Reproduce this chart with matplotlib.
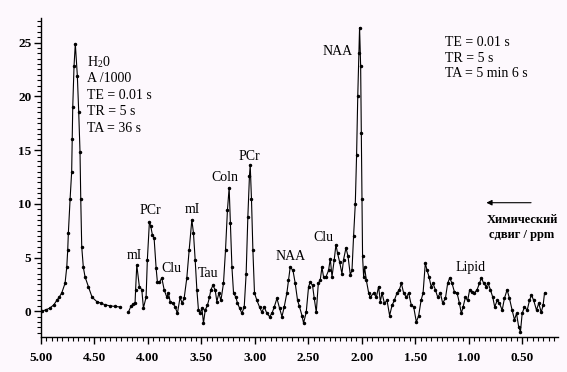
import matplotlib
matplotlib.use('Agg')
import matplotlib.pyplot as plt
from matplotlib.ticker import MultipleLocator, FormatStrFormatter

# water peak (ppm, intensity / 1000 scaled)
ppm_h2o = [4.993, 4.950, 4.916, 4.880, 4.853, 4.830, 4.806, 4.775, 4.759, 4.750,
           4.744, 4.728, 4.713, 4.708, 4.703, 4.691, 4.679, 4.660, 4.647, 4.635,
           4.628, 4.619, 4.604, 4.588, 4.557, 4.522, 4.478, 4.440, 4.400, 4.354,
           4.310, 4.260]
int_h2o = [0.0, 0.15, 0.3, 0.6, 1.0, 1.3, 1.7, 2.6, 4.1, 5.7,
           7.3, 10.4, 13.0, 16.0, 19.0, 22.8, 24.9, 21.9, 18.5, 14.8,
           10.4, 6.0, 4.1, 3.2, 2.3, 1.3, 0.9, 0.75, 0.6, 0.5,
           0.45, 0.4]

# metabolite spectrum
ppm_met = [4.183, 4.157, 4.136, 4.120, 4.115, 4.104, 4.080, 4.057, 4.042, 4.017,
           4.005, 3.986, 3.973, 3.958, 3.942, 3.923, 3.911, 3.892, 3.870, 3.848,
           3.823, 3.808, 3.792, 3.767, 3.745, 3.724, 3.699, 3.680, 3.661, 3.636,
           3.614, 3.589, 3.574, 3.558, 3.542, 3.527, 3.511, 3.495, 3.480, 3.464,
           3.443, 3.424, 3.411, 3.392, 3.371, 3.355, 3.336, 3.317, 3.293, 3.274,
           3.256, 3.240, 3.228, 3.214, 3.199, 3.177, 3.162, 3.143, 3.121, 3.099,
           3.081, 3.065, 3.050, 3.043, 3.031, 3.018, 3.003, 2.980, 2.956, 2.934,
           2.912, 2.887, 2.862, 2.840, 2.818, 2.793, 2.769, 2.746, 2.725, 2.700,
           2.685, 2.669, 2.643, 2.622, 2.600, 2.584, 2.559, 2.544, 2.519, 2.497,
           2.481, 2.460, 2.444, 2.425, 2.406, 2.388, 2.372, 2.357, 2.334, 2.310,
           2.294, 2.278, 2.257, 2.241, 2.226, 2.207, 2.185, 2.170, 2.147, 2.128,
           2.107, 2.091, 2.076, 2.060, 2.048, 2.037, 2.027, 2.020, 2.010, 2.004,
           1.997, 1.992, 1.982, 1.973, 1.957, 1.935, 1.920, 1.889, 1.863, 1.842,
           1.826, 1.810, 1.788, 1.763, 1.739, 1.716, 1.695, 1.670, 1.648, 1.629,
           1.608, 1.583, 1.561, 1.536, 1.514, 1.489, 1.467, 1.445, 1.426, 1.405,
           1.389, 1.370, 1.351, 1.333, 1.311, 1.289, 1.264, 1.243, 1.217, 1.196,
           1.177, 1.155, 1.133, 1.108, 1.086, 1.068, 1.052, 1.030, 1.009, 0.990,
           0.967, 0.946, 0.921, 0.899, 0.880, 0.859, 0.836, 0.818, 0.796, 0.774,
           0.756, 0.733, 0.712, 0.686, 0.665, 0.640, 0.618, 0.593, 0.571, 0.552,
           0.531, 0.515, 0.499, 0.478, 0.452, 0.431, 0.412, 0.391, 0.365, 0.344,
           0.321, 0.303, 0.290]
int_met = [-0.1, 0.5, 0.65, 0.8, 2.0, 4.3, 2.3, 2.0, 0.3, 1.3,
           4.8, 8.3, 7.9, 7.1, 6.8, 4.0, 2.7, 2.7, 3.1, 2.0,
           1.3, 1.7, 0.9, 0.75, 0.4, -0.2, 1.3, 0.75, 1.2, 3.1,
           5.7, 8.5, 7.3, 4.8, 2.0, 0.1, -0.2, 0.3, -1.1, 0.1,
           0.56, 1.3, 2.0, 2.4, 2.0, 0.9, 1.7, 1.0, 2.6, 5.7,
           9.4, 11.5, 8.2, 4.1, 1.7, 1.3, 0.75, 0.3, -0.2, 0.4,
           3.5, 8.8, 12.6, 13.6, 10.4, 5.7, 1.7, 1.0, 0.4, -0.1,
           0.4, -0.2, -0.5, -0.2, 0.4, 1.2, 0.3, -0.5, 0.4, 1.7,
           2.9, 4.1, 3.8, 2.6, 1.0, 0.5, -0.4, -1.1, -0.1, 2.3,
           2.7, 2.4, 1.2, -0.1, 2.6, 2.9, 4.1, 3.2, 3.2, 3.8,
           4.9, 3.2, 4.8, 6.2, 5.4, 4.6, 3.5, 4.8, 5.9, 5.1,
           3.4, 3.8, 7.0, 10.0, 14.5, 20.0, 24.0, 26.4, 22.8, 16.6,
           10.4, 5.1, 3.2, 4.1, 2.9, 1.7, 1.3, 1.7, 1.3, 2.3,
           0.9, 1.7, 0.75, 1.0, -0.4, 0.56, 1.0, 1.7, 2.0, 2.6,
           1.7, 1.3, 1.7, 0.56, 0.4, -1.0, -0.4, 1.0, 1.7, 4.5,
           3.8, 3.2, 2.3, 2.6, 2.0, 1.3, 1.7, 0.75, 1.2, 2.6,
           3.1, 2.6, 1.8, 1.7, 0.75, -0.2, 0.4, 1.3, 1.0, 2.0,
           1.8, 1.7, 2.0, 2.6, 3.1, 2.6, 2.3, 2.6, 2.0, 1.3,
           0.4, 1.0, 0.75, 0.1, 1.2, 2.0, 1.2, 0.1, -0.8, -0.2,
           -1.5, -1.9, -0.2, 0.4, 0.1, 1.0, 1.5, 1.0, 0.1, 0.75,
           -0.1, 0.56, 1.7]

peak_names = ['mI', 'PCr', 'Clu', 'mI', 'Tau', 'Coln', 'PCr', 'NAA', 'Clu', 'NAA', 'Lipid']
peak_x = [4.129, 3.979, 3.783, 3.586, 3.436, 3.277, 3.052, 2.669, 2.360, 2.228, 0.983]
peak_y = [5.2, 9.4, 4.0, 9.5, 3.5, 12.4, 14.4, 5.1, 6.9, 24.2, 4.1]

left_notes = ['H$_\\mathregular{2}$0', 'A /1000', 'TE = 0.01 s', 'TR = 5 s', 'TA = 36 s']
right_notes = ['TE = 0.01 s', 'TR = 5 s', 'TA = 5 min 6 s']

bg = '#fdf8fd'
plt.rcParams['font.family'] = ['Liberation Serif', 'DejaVu Serif']
plt.rcParams['mathtext.fontset'] = 'stix'

fig = plt.figure(figsize=(5.67, 3.72), dpi=100, facecolor=bg)
ax = fig.add_axes([0.0723, 0.094, 0.912, 0.858], facecolor=bg)

for xs, ys in [(ppm_h2o, int_h2o), (ppm_met, int_met)]:
    ax.plot(xs, ys, color='black', lw=0.8, marker='.', ms=3, mec='black')

ax.set_xlim(5.0, 0.163)
ax.set_ylim(-2.4, 27.3)

ax.spines['top'].set_visible(False)
ax.spines['right'].set_visible(False)
for s in ['left', 'bottom']:
    ax.spines[s].set_linewidth(1.0)

ax.xaxis.set_major_locator(MultipleLocator(0.5))
ax.xaxis.set_minor_locator(MultipleLocator(0.05))
ax.xaxis.set_major_formatter(FormatStrFormatter('%.2f'))
ax.yaxis.set_major_locator(MultipleLocator(5))
ax.yaxis.set_minor_locator(MultipleLocator(0.5))
ax.tick_params(axis='both', which='major', length=5, width=1, labelsize=9.5)
ax.tick_params(axis='both', which='minor', length=3, width=0.8)
ax.tick_params(axis='x', which='major', pad=6)
ax.tick_params(axis='y', which='major', pad=2)
for lab in ax.get_xticklabels() + ax.get_yticklabels():
    lab.set_fontweight('bold')

for name, x, y in zip(peak_names, peak_x, peak_y):
    ax.text(x, y, name, fontsize=10, ha='center', va='center')

for i, t in enumerate(left_notes):
    ax.text(4.565, 23.2 - i * 1.55, t, fontsize=10, ha='left', va='center')

for i, t in enumerate(right_notes):
    ax.text(1.225, 25.0 - i * 1.45, t, fontsize=10, ha='left', va='center')

ax.annotate('', xy=(0.86, 10.1), xytext=(0.39, 10.1),
            arrowprops=dict(arrowstyle='-|>', color='black', lw=0.8,
                            mutation_scale=8))
ax.text(0.50, 8.5, 'Химический', fontsize=9, fontweight='bold', ha='center', va='center')
ax.text(0.50, 7.1, 'сдвиг / ppm', fontsize=9, fontweight='bold', ha='center', va='center')

fig.savefig('out.png', dpi=100, facecolor=bg)
